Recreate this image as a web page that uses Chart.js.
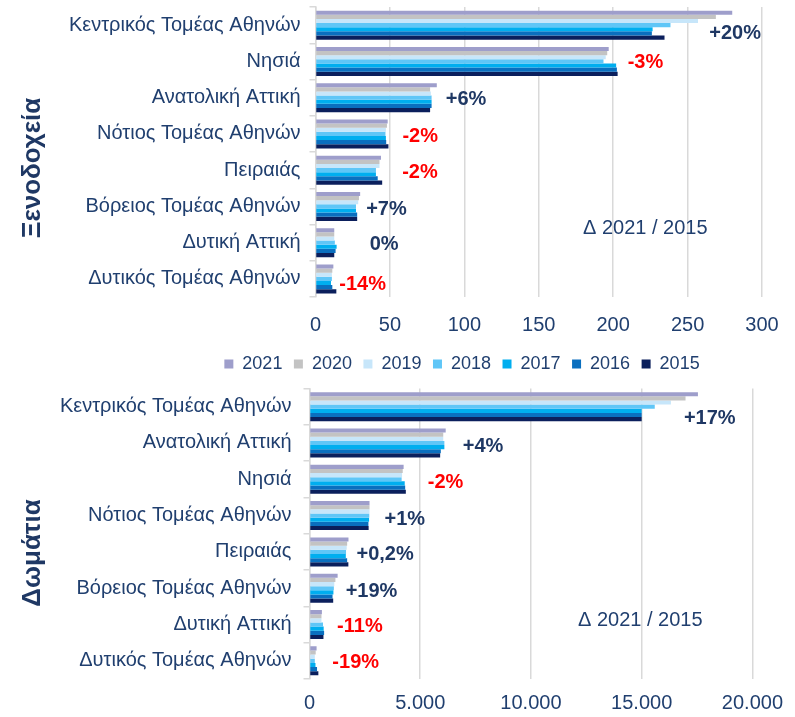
<!DOCTYPE html>
<html>
<head>
<meta charset="utf-8">
<script src="https://cdn.jsdelivr.net/npm/chart.js@4.4.1/dist/chart.umd.min.js"></script>
<style>
    body { margin: 0; width: 795px; height: 717px; overflow: hidden; background: #fff; position: relative; }
    #hotels { position: absolute; left: 0; top: 0; }
    #rooms { position: absolute; left: 0; top: 381px; }
</style>
</head>
<body>
<canvas id="hotels" width="795" height="383"></canvas>
<canvas id="rooms" width="795" height="336"></canvas>
<script>
// years, newest first (same order as the legend)
var years = ['2021', '2020', '2019', '2018', '2017', '2016', '2015'];
var yearColors = ['#9e9ecb', '#c3c3c3', '#c7e6fa', '#5fc6f7', '#00aeef', '#0a6fbf', '#0b1f5c'];

// Ξενοδοχεία
var hotelRegions = ['Κεντρικός Τομέας Αθηνών', 'Νησιά', 'Ανατολική Αττική', 'Νότιος Τομέας Αθηνών',
    'Πειραιάς', 'Βόρειος Τομέας Αθηνών', 'Δυτική Αττική', 'Δυτικός Τομέας Αθηνών'];
var hotels2021 = [280, 197, 81.5, 48.5, 44, 30, 12.6, 12];
var hotels2020 = [269, 196, 77, 48, 43, 29.2, 12.6, 11.3];
var hotels2019 = [257, 195, 77.5, 47.3, 43, 28.7, 12.6, 11];
var hotels2018 = [238.5, 193.5, 78, 47, 40.6, 27.2, 13, 11];
var hotels2017 = [226.5, 202, 78, 47.3, 40.6, 27.2, 14.2, 10.4];
var hotels2016 = [226, 202.5, 78, 47.5, 41.8, 28, 13.5, 11.3];
var hotels2015 = [234.5, 203, 77, 49, 44.8, 28, 12.6, 14];
var hotelDelta = ['+20%', '-3%', '+6%', '-2%', '-2%', '+7%', '0%', '-14%'];
var hotelTicks = [0, 50, 100, 150, 200, 250, 300];

// Δωμάτια
var roomRegions = ['Κεντρικός Τομέας Αθηνών', 'Ανατολική Αττική', 'Νησιά', 'Νότιος Τομέας Αθηνών',
    'Πειραιάς', 'Βόρειος Τομέας Αθηνών', 'Δυτική Αττική', 'Δυτικός Τομέας Αθηνών'];
var rooms2021 = [17540, 6150, 4250, 2710, 1760, 1270, 560, 320];
var rooms2020 = [16980, 6040, 4210, 2710, 1700, 1170, 540, 280];
var rooms2019 = [16320, 6040, 4180, 2710, 1680, 1120, 540, 240];
var rooms2018 = [15590, 6090, 4160, 2700, 1650, 1100, 610, 240];
var rooms2017 = [15000, 6090, 4300, 2690, 1640, 1080, 640, 270];
var rooms2016 = [15000, 5930, 4320, 2660, 1700, 1040, 660, 340];
var rooms2015 = [15000, 5900, 4350, 2670, 1755, 1070, 630, 400];
var roomDelta = ['+17%', '+4%', '-2%', '+1%', '+0,2%', '+19%', '-11%', '-19%'];
var roomTicks = [0, 5000, 10000, 15000, 20000];

var textColor = '#203f6f';
var gridColor = '#d9d9d9';
var fontName = '"Liberation Sans", Arial, sans-serif';

function makeDatasets(rows) {
    return rows.map(function(row, i) {
        return {
            label: years[i],
            data: row,
            backgroundColor: yearColors[i],
            borderWidth: 0,
            categoryPercentage: 0.8,
            barPercentage: 1
        };
    });
}

// delta labels, side title and the "Δ 2021 / 2015" note
var notesPlugin = {
    id: 'notes',
    afterLayout: function(chart, args, opts) {
        // legend sits under the plot area, not centred on the whole canvas
        if (opts.legendLeft && chart.legend) {
            chart.legend.left = opts.legendLeft;
            chart.legend.width = chart.legend.right - chart.legend.left;
        }
    },
    afterDatasetsDraw: function(chart, args, opts) {
        var ctx = chart.ctx;
        var n = chart.data.labels.length;
        ctx.save();
        ctx.font = 'bold 20px ' + fontName;
        ctx.textBaseline = 'middle';
        ctx.textAlign = 'left';
        for (var i = 0; i < n; i++) {
            var maxX = 0;
            chart.data.datasets.forEach(function(ds, d) {
                var bar = chart.getDatasetMeta(d).data[i];
                if (bar.x > maxX) maxX = bar.x;
            });
            var midY = chart.getDatasetMeta(3).data[i].y;
            var txt = opts.deltas[i];
            ctx.fillStyle = txt.charAt(0) == '-' ? '#ff0000' : '#1f3864';
            ctx.fillText(txt, maxX + opts.dx[i], midY + opts.dy[i]);
        }
        ctx.font = '20px ' + fontName;
        ctx.fillStyle = textColor;
        ctx.fillText('Δ 2021 / 2015', opts.noteX, opts.noteY);

        ctx.translate(opts.titleX, opts.titleY);
        ctx.rotate(-Math.PI / 2);
        ctx.textAlign = 'center';
        ctx.font = 'bold 26px ' + fontName;
        ctx.fillStyle = '#1f3864';
        ctx.fillText(opts.title, 0, 0);
        ctx.restore();
    }
};

function makeOptions(cfg) {
    return {
        indexAxis: 'y',
        responsive: false,
        animation: false,
        layout: { padding: cfg.padding },
        plugins: {
            legend: cfg.legend,
            tooltip: { enabled: false },
            notes: cfg.notes
        },
        scales: {
            x: {
                min: cfg.ticks[0],
                max: cfg.ticks[cfg.ticks.length - 1],
                afterBuildTicks: function(scale) {
                    scale.ticks = cfg.ticks.map(function(v) { return { value: v }; });
                },
                afterFit: function(scale) { scale.height = cfg.xHeight; },
                grid: { color: gridColor, lineWidth: 1.5, drawTicks: false },
                border: { display: false },
                ticks: {
                    padding: cfg.xPad,
                    color: textColor,
                    font: { family: fontName, size: 20 },
                    callback: function(v) { return v.toLocaleString('de-DE'); }
                }
            },
            y: {
                afterFit: function(scale) {
                    scale.width = cfg.yWidth;
                    scale.paddingTop = 0;
                    scale.paddingBottom = 0;
                },
                grid: { drawOnChartArea: false, drawTicks: true, tickLength: 6, color: gridColor, lineWidth: 1.5 },
                border: { color: gridColor, width: 1.5 },
                ticks: {
                    padding: cfg.yPad,
                    color: textColor,
                    font: { family: fontName, size: 20 }
                }
            }
        }
    };
}

// top chart carries the shared legend underneath its axis
new Chart(document.getElementById('hotels'), {
    type: 'bar',
    data: {
        labels: hotelRegions,
        datasets: makeDatasets([hotels2021, hotels2020, hotels2019, hotels2018, hotels2017, hotels2016, hotels2015])
    },
    options: makeOptions({
        padding: { left: 0, top: 7, right: 33, bottom: 0 },
        legend: {
            display: true,
            position: 'bottom',
            labels: {
                boxWidth: 9, boxHeight: 9, padding: 11.5,
                color: textColor,
                font: { family: fontName, size: 18 }
            }
        },
        ticks: hotelTicks,
        xHeight: 46.5, xPad: 16,
        yWidth: 315.5, yPad: 9,
        notes: {
            legendLeft: 162,
            deltas: hotelDelta,
            dx: [-23, 10, 9, 14, 20, 6, 33, 3],
            dy: [8, 1, 2, 3, 2, 3, 2, 6],
            noteX: 583, noteY: 228,
            title: 'Ξενοδοχεία', titleX: 33, titleY: 168
        }
    }),
    plugins: [notesPlugin]
});

new Chart(document.getElementById('rooms'), {
    type: 'bar',
    data: {
        labels: roomRegions,
        datasets: makeDatasets([rooms2021, rooms2020, rooms2019, rooms2018, rooms2017, rooms2016, rooms2015])
    },
    options: makeOptions({
        padding: { left: 0, top: 7.5, right: 32, bottom: 8 },
        legend: { display: false },
        ticks: roomTicks,
        xHeight: 30, xPad: 12,
        yWidth: 309.5, yPad: 12,
        notes: {
            deltas: roomDelta,
            dx: [-14, 17, 22, 15, 8, 8, 13, 14],
            dy: [12, 4, 3, 4, 3, 3, 2, 2],
            noteX: 578, noteY: 239,
            title: 'Δωμάτια', titleX: 33, titleY: 172
        }
    }),
    plugins: [notesPlugin]
});
</script>
</body>
</html>
